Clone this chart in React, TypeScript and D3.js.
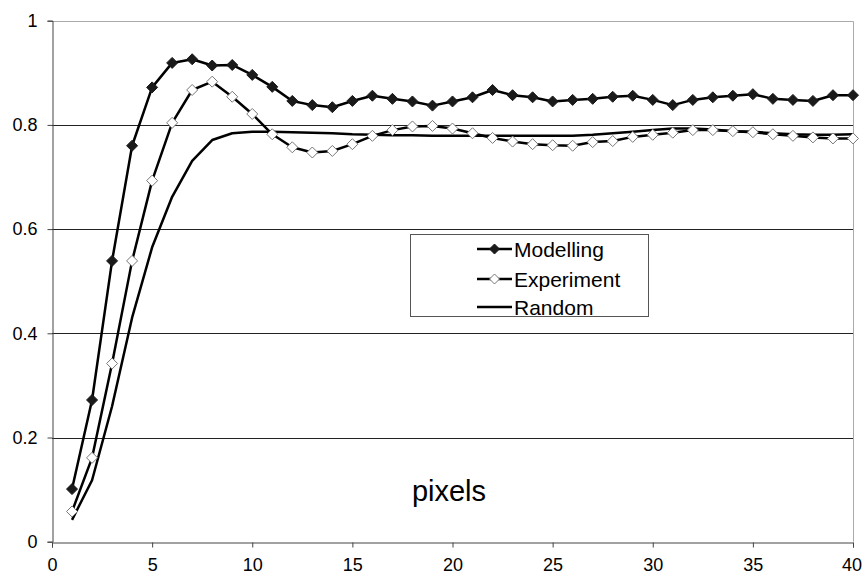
import React, { useEffect, useRef } from "react";
import * as d3 from "d3";

const xs = d3.range(1, 41);

const modelling = [
  0.101, 0.272, 0.539, 0.76, 0.872, 0.919, 0.926, 0.914, 0.915, 0.896,
  0.873, 0.846, 0.838, 0.834, 0.846, 0.856, 0.85, 0.845, 0.837, 0.845,
  0.853, 0.867, 0.857, 0.853, 0.845, 0.848, 0.85, 0.854, 0.856, 0.848,
  0.838, 0.848, 0.853, 0.856, 0.859, 0.85, 0.848, 0.846, 0.857, 0.857,
];

const experiment = [
  0.058, 0.161, 0.342, 0.539, 0.693, 0.804, 0.867, 0.883, 0.854, 0.821,
  0.782, 0.757, 0.747, 0.75, 0.763, 0.779, 0.79, 0.797, 0.798, 0.793,
  0.784, 0.775, 0.768, 0.763, 0.761, 0.76, 0.767, 0.769, 0.777, 0.781,
  0.785, 0.79, 0.79, 0.788, 0.786, 0.782, 0.779, 0.776, 0.774, 0.774,
];

const random = [
  0.042, 0.118, 0.26, 0.43, 0.565, 0.662, 0.731, 0.771, 0.784, 0.787,
  0.787, 0.786, 0.785, 0.784, 0.782, 0.781, 0.78, 0.78, 0.779, 0.779,
  0.779, 0.779, 0.779, 0.779, 0.779, 0.779, 0.781, 0.784, 0.787, 0.79,
  0.793, 0.793, 0.791, 0.788, 0.787, 0.784, 0.782, 0.781, 0.781, 0.782,
];

const xTicks = [0, 5, 10, 15, 20, 25, 30, 35, 40];
const yTicks = [0, 0.2, 0.4, 0.6, 0.8, 1];
const legendLabels = ["Modelling", "Experiment", "Random"];

const App = () => {
  const ref = useRef<SVGSVGElement>(null);

  useEffect(() => {
    const svg = d3.select(ref.current);
    svg.selectAll("*").remove();

    const font = "Liberation Sans, Arial, sans-serif";
    const x = d3.scaleLinear().domain([0, 40]).range([52, 853]);
    const y = d3.scaleLinear().domain([0, 1]).range([541.7, 20.7]);

    // gridlines
    svg
      .append("g")
      .selectAll("line")
      .data(yTicks.filter((t) => t > 0 && t < 1))
      .enter()
      .append("line")
      .attr("x1", x(0))
      .attr("x2", x(40))
      .attr("y1", (d) => Math.round(y(d)) + 0.5)
      .attr("y2", (d) => Math.round(y(d)) + 0.5)
      .attr("stroke", "#222")
      .attr("stroke-width", 1);

    // plot border top/right
    svg
      .append("path")
      .attr(
        "d",
        `M${x(0)},${Math.round(y(1)) + 0.5}H${Math.round(x(40)) + 0.5}V${y(0)}`
      )
      .attr("fill", "none")
      .attr("stroke", "#aaa");

    // axes
    const gx = svg
      .append("g")
      .attr("transform", `translate(0,${Math.round(y(0)) + 0.5})`)
      .call(
        d3
          .axisBottom(x)
          .tickValues(xTicks)
          .tickSize(5)
          .tickPadding(11)
          .tickFormat(d3.format("d"))
      );
    const gy = svg
      .append("g")
      .attr("transform", `translate(${Math.round(x(0)) + 0.5},0)`)
      .call(
        d3
          .axisLeft(y)
          .tickValues(yTicks)
          .tickSize(5)
          .tickPadding(10)
          .tickFormat((d) => String(+d))
      );
    [gx, gy].forEach((g) => {
      g.select(".domain").attr("stroke", "#444");
      g.selectAll(".tick line").attr("stroke", "#444");
      g.selectAll("text")
        .attr("font-family", font)
        .attr("font-size", 18)
        .attr("fill", "#000");
    });
    // last x label sits at the window edge, nudge it in
    gx.selectAll<SVGTextElement, number>(".tick text")
      .filter((d) => d === 40)
      .attr("text-anchor", "end")
      .attr("x", 8.5);

    const series = [
      { values: modelling, marker: "filled" },
      { values: experiment, marker: "open" },
      { values: random, marker: "none" },
    ];

    const line = d3
      .line<number>()
      .x((_, i) => x(xs[i]))
      .y((d) => y(d));

    const diamond = (cx: number, cy: number, r: number) =>
      `M${cx},${cy - r}L${cx + r},${cy}L${cx},${cy + r}L${cx - r},${cy}Z`;

    // draw random first, then experiment, then modelling
    [...series].reverse().forEach((s) => {
      svg
        .append("path")
        .datum(s.values)
        .attr("d", line)
        .attr("fill", "none")
        .attr("stroke", "#000")
        .attr("stroke-width", 2.5)
        .attr("stroke-linejoin", "round");
      if (s.marker !== "none") {
        svg
          .append("g")
          .selectAll("path")
          .data(s.values)
          .enter()
          .append("path")
          .attr("d", (d, i) => diamond(x(xs[i]), y(d), 5.5))
          .attr("fill", s.marker === "filled" ? "#1a1a1a" : "#fff")
          .attr("stroke", s.marker === "filled" ? "#1a1a1a" : "#777")
          .attr("stroke-width", 1);
      }
    });

    // legend
    const lg = svg.append("g");
    lg.append("rect")
      .attr("x", 410.5)
      .attr("y", 234.5)
      .attr("width", 238)
      .attr("height", 82)
      .attr("fill", "#fff")
      .attr("stroke", "#555");
    legendLabels.forEach((label, i) => {
      const cy = [249, 279, 307][i];
      lg.append("line")
        .attr("x1", 477)
        .attr("x2", 512)
        .attr("y1", cy)
        .attr("y2", cy)
        .attr("stroke", "#000")
        .attr("stroke-width", 2.5);
      if (series[i].marker !== "none") {
        lg.append("path")
          .attr("d", diamond(494.5, cy, 5))
          .attr("fill", series[i].marker === "filled" ? "#1a1a1a" : "#fff")
          .attr("stroke", series[i].marker === "filled" ? "#1a1a1a" : "#777");
      }
      lg.append("text")
        .attr("x", 514)
        .attr("y", cy + 7.5)
        .attr("font-family", font)
        .attr("font-size", 21)
        .attr("fill", "#000")
        .text(label);
    });

    // axis title
    svg
      .append("text")
      .attr("x", 449)
      .attr("y", 501)
      .attr("text-anchor", "middle")
      .attr("font-family", font)
      .attr("font-size", 29)
      .attr("fill", "#000")
      .text("pixels");
  }, []);

  return (
    <svg
      ref={ref}
      width={862}
      height={575}
      style={{ position: "absolute", left: 0, top: 0, background: "#fff" }}
    />
  );
};

export default App;
